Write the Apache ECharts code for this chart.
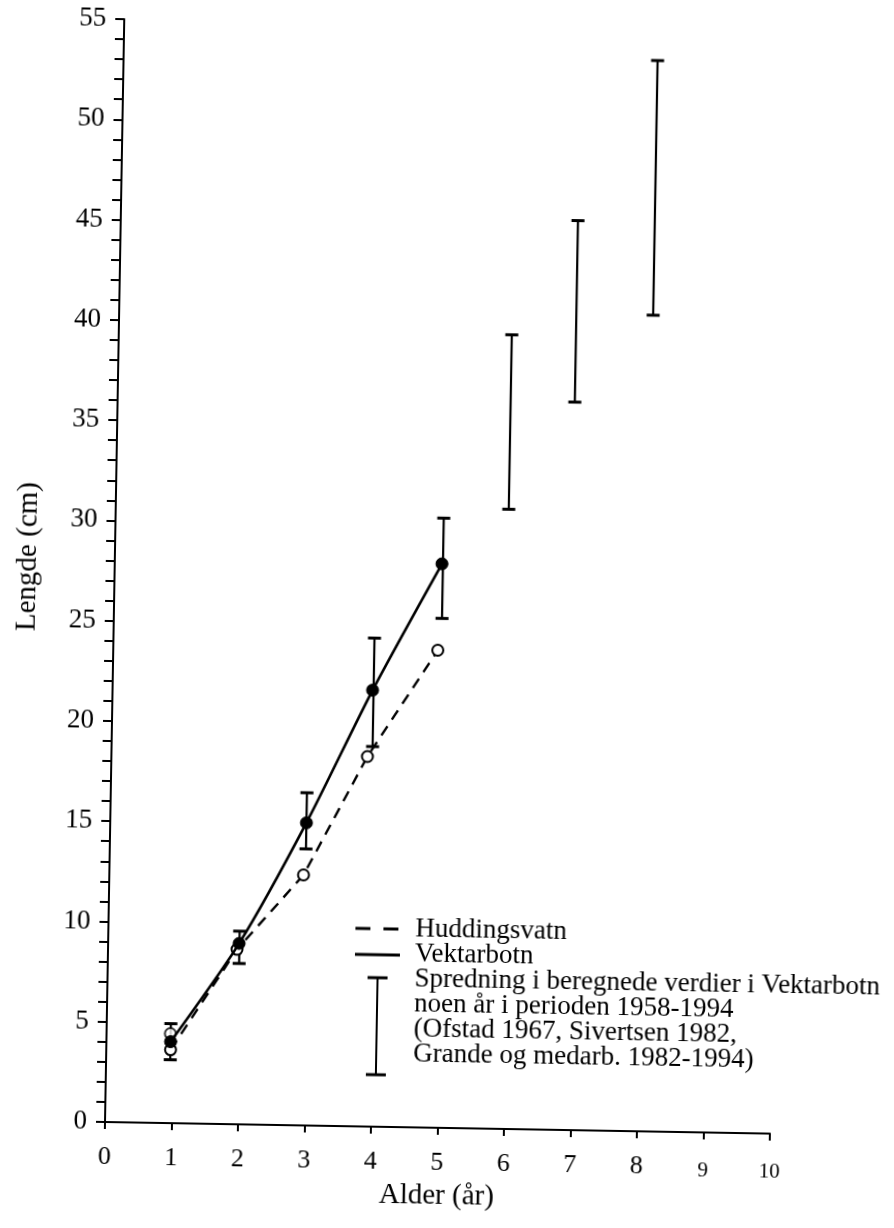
<!DOCTYPE html>
<html>
<head>
<meta charset="utf-8">
<script src="https://cdn.jsdelivr.net/npm/echarts@6/dist/echarts.min.js"></script>
<style>
html,body{margin:0;padding:0;background:#fff;overflow:hidden;}
/* the scanned reference is turned about 1 degree clockwise */
#chart{width:894px;height:1228px;transform:rotate(1deg);transform-origin:105px 1122px;}
</style>
</head>
<body>
<div id="chart"></div>
<script>
// ---- data ----
const vektAge = [0.965, 1.97, 2.95, 3.91, 4.92];
const vektLen = [4.06, 9.02, 15.09, 21.76, 28.12];
const huddAge = [0.967, 1.94, 2.92, 3.85, 4.88];
const huddLen = [3.66, 8.72, 12.49, 18.45, 23.81];
const extraOpenAge = [0.96];
const extraOpenLen = [4.46];
const rangeAge = [0.965, 1.975, 2.95, 3.925, 4.935, 5.91, 6.875, 8.03];
const rangeLow = [3.16, 8.02, 13.79, 18.95, 25.4, 30.9, 36.3, 40.7];
const rangeHigh = [4.96, 9.63, 16.59, 24.36, 30.4, 39.6, 45.35, 53.4];
const legendNames = ['Huddingsvatn', 'Vektarbotn'];
const rangeText = [
  'Spredning i beregnede verdier i Vektarbotn',
  'noen år i perioden 1958-1994',
  '(Ofstad 1967, Sivertsen 1982,',
  'Grande og medarb. 1982-1994)'
];
const xTitle = 'Alder (år)';
const yTitle = 'Lengde (cm)';

const FONT = 'Liberation Serif';
const zip = (a, b) => a.map((v, i) => [v, b[i]]);

const chart = echarts.init(document.getElementById('chart'), null, {renderer: 'canvas'});
const legendLines = [legendNames[0], legendNames[1]].concat(rangeText);
const legendY = [924, 949, 974, 999, 1024, 1049];
const option = {
  backgroundColor: '#fff',
  animation: false,
  grid: {left: 105, right: 124, top: 19, bottom: 106},
  xAxis: {
    type: 'value', min: 0, max: 10, interval: 1,
    axisLine: {lineStyle: {color: '#000', width: 2}},
    axisTick: {show: true, length: 7, lineStyle: {color: '#000', width: 2}},
    splitLine: {show: false},
    axisLabel: {
      color: '#000', fontFamily: FONT, fontSize: 26, margin: 22,
      formatter: v => v >= 9 ? '{s|' + v + '}' : String(v),
      rich: {s: {fontFamily: FONT, fontSize: 21, color: '#000', padding: [6, 0, 0, 0]}}
    },
    name: xTitle, nameLocation: 'middle', nameGap: 51,
    nameTextStyle: {color: '#000', fontFamily: FONT, fontSize: 29}
  },
  yAxis: {
    type: 'value', min: 0, max: 55, interval: 5,
    axisLine: {show: true, lineStyle: {color: '#000', width: 2}},
    axisTick: {show: true, length: 9, lineStyle: {color: '#000', width: 2}},
    minorTick: {show: true, splitNumber: 5, length: 9, lineStyle: {color: '#000', width: 2}},
    splitLine: {show: false},
    axisLabel: {color: '#000', fontFamily: FONT, fontSize: 27, margin: 18}
  },
  series: [
    {
      type: 'custom',
      name: 'range',
      data: rangeAge.map((a, i) => [a, rangeLow[i], rangeHigh[i]]),
      renderItem: function (params, api) {
        const lo = api.coord([api.value(0), api.value(1)]);
        const hi = api.coord([api.value(0), api.value(2)]);
        const w = 6.5;
        return {
          type: 'group',
          children: [
            {type: 'line', shape: {x1: lo[0], y1: lo[1], x2: hi[0], y2: hi[1]}, style: {stroke: '#000', lineWidth: 2.2}},
            {type: 'line', shape: {x1: lo[0] - w, y1: lo[1], x2: lo[0] + w, y2: lo[1]}, style: {stroke: '#000', lineWidth: 3}},
            {type: 'line', shape: {x1: hi[0] - w, y1: hi[1], x2: hi[0] + w, y2: hi[1]}, style: {stroke: '#000', lineWidth: 3}}
          ]
        };
      },
      z: 2
    },
    {
      type: 'line', name: 'Huddingsvatn',
      data: zip(huddAge, huddLen),
      symbol: 'circle', symbolSize: 11,
      itemStyle: {color: '#fff', borderColor: '#000', borderWidth: 2},
      lineStyle: {color: '#000', width: 2.4, type: [11, 8]},
      z: 3
    },
    {
      type: 'scatter', name: 'extra',
      data: zip(extraOpenAge, extraOpenLen),
      symbol: 'circle', symbolSize: 11,
      itemStyle: {color: '#fff', borderColor: '#000', borderWidth: 2},
      z: 3
    },
    {
      type: 'line', name: 'Vektarbotn',
      data: zip(vektAge, vektLen),
      smooth: 0.25,
      symbol: 'circle', symbolSize: 12,
      itemStyle: {color: '#000', borderColor: '#000'},
      lineStyle: {color: '#000', width: 2.6},
      z: 4
    }
  ],
  graphic: [
    {type: 'text', x: 18, y: 558, rotation: Math.PI / 2,
      style: {text: yTitle, font: '29px "' + FONT + '"', fill: '#000', align: 'center', verticalAlign: 'middle'}},
    {type: 'line', shape: {x1: 352, y1: 924, x2: 397, y2: 924}, style: {stroke: '#000', lineWidth: 3, lineDash: [15, 13]}},
    {type: 'line', shape: {x1: 352, y1: 950, x2: 397, y2: 950}, style: {stroke: '#000', lineWidth: 3}},
    {type: 'line', shape: {x1: 375, y1: 973, x2: 375, y2: 1070}, style: {stroke: '#000', lineWidth: 2}},
    {type: 'line', shape: {x1: 365, y1: 973, x2: 385, y2: 973}, style: {stroke: '#000', lineWidth: 3}},
    {type: 'line', shape: {x1: 365, y1: 1070, x2: 385, y2: 1070}, style: {stroke: '#000', lineWidth: 3}}
  ].concat(legendLines.map((t, i) => ({
    type: 'text', x: 412, y: legendY[i],
    style: {text: t, font: '27px "' + FONT + '"', fill: '#000', verticalAlign: 'middle'}
  })))
};
chart.setOption(option);
</script>
</body>
</html>
